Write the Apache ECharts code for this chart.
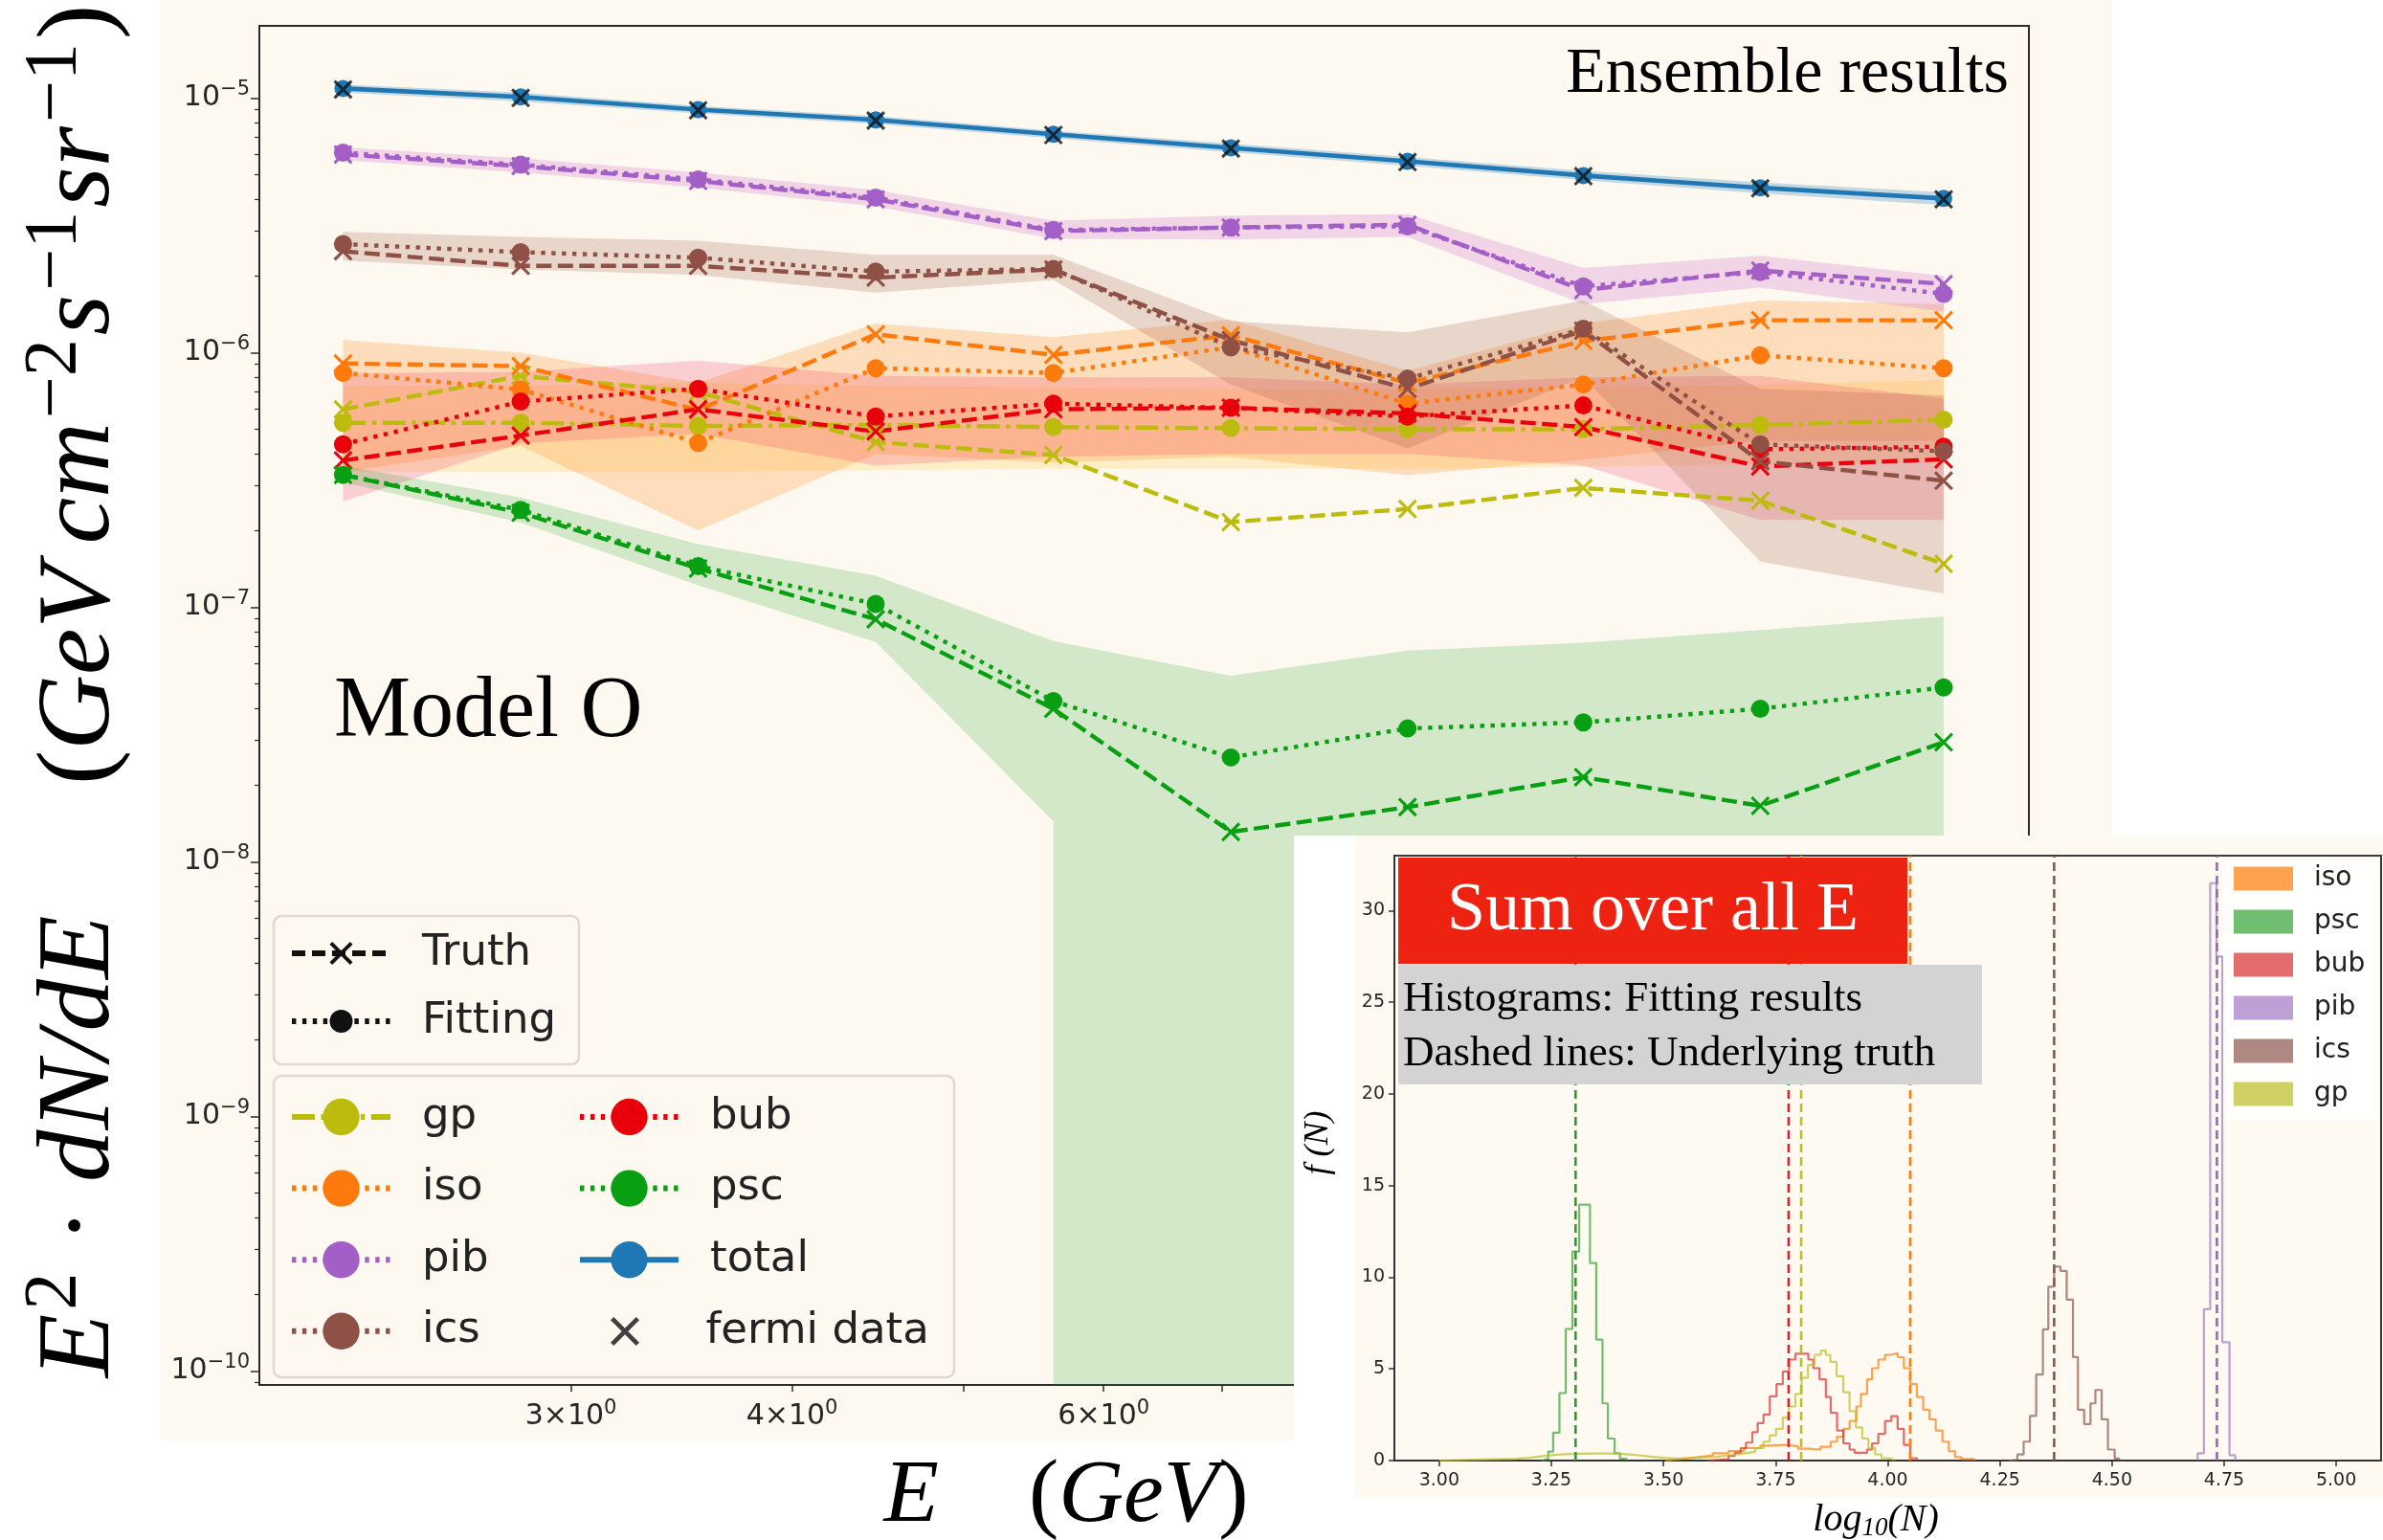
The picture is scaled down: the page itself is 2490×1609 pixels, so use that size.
<!DOCTYPE html>
<html>
<head>
<meta charset="utf-8">
<script src="https://cdn.jsdelivr.net/npm/echarts@6/dist/echarts.min.js"></script>
<style>
html,body{margin:0;padding:0;background:#ffffff;}
#chart{width:2490px;height:1609px;}
</style>
</head>
<body>
<div id="chart"></div>
<script>
// ---------- spectrum panel: energy bin centres (GeV) ----------
const energies = [2.23, 2.81, 3.54, 4.46, 5.62, 7.08, 8.91, 11.2, 14.1, 17.9];

// E^2 dN/dE  (GeV cm^-2 s^-1 sr^-1)
const totalFit  = [1.09e-5, 1.01e-5, 9.0e-6, 8.2e-6, 7.2e-6, 6.37e-6, 5.64e-6, 4.96e-6, 4.44e-6, 4.03e-6];
const totalLo   = [1.05e-5, 0.97e-5, 8.7e-6, 7.9e-6, 6.95e-6, 6.12e-6, 5.42e-6, 4.75e-6, 4.22e-6, 3.80e-6];
const totalHi   = [1.13e-5, 1.05e-5, 9.3e-6, 8.5e-6, 7.45e-6, 6.62e-6, 5.86e-6, 5.17e-6, 4.66e-6, 4.26e-6];
const fermiData = [1.08e-5, 1.0e-5, 8.95e-6, 8.15e-6, 7.15e-6, 6.33e-6, 5.6e-6, 4.93e-6, 4.42e-6, 4.0e-6];

const pibFit   = [6.1e-6, 5.47e-6, 4.79e-6, 4.06e-6, 3.03e-6, 3.10e-6, 3.13e-6, 1.82e-6, 2.07e-6, 1.70e-6];
const pibTruth = [6.0e-6, 5.4e-6, 4.72e-6, 4.0e-6, 3.0e-6, 3.1e-6, 3.18e-6, 1.76e-6, 2.1e-6, 1.86e-6];
const pibLo    = [5.7e-6, 5.1e-6, 4.45e-6, 3.75e-6, 2.8e-6, 2.78e-6, 2.85e-6, 1.55e-6, 1.8e-6, 1.45e-6];
const pibHi    = [6.4e-6, 5.8e-6, 5.1e-6, 4.35e-6, 3.3e-6, 3.45e-6, 3.5e-6, 2.15e-6, 2.4e-6, 2.0e-6];

const icsFit   = [2.67e-6, 2.48e-6, 2.36e-6, 2.08e-6, 2.13e-6, 1.05e-6, 7.9e-7, 1.24e-6, 4.36e-7, 4.1e-7];
const icsTruth = [2.50e-6, 2.19e-6, 2.19e-6, 1.97e-6, 2.12e-6, 1.12e-6, 7.2e-7, 1.22e-6, 3.74e-7, 3.14e-7];
const icsLo    = [2.3e-6, 2.12e-6, 2.02e-6, 1.72e-6, 1.93e-6, 7.5e-7, 4.2e-7, 8.0e-7, 1.51e-7, 1.13e-7];
const icsHi    = [2.98e-6, 2.85e-6, 2.75e-6, 2.42e-6, 2.42e-6, 1.33e-6, 1.2e-6, 1.6e-6, 7.2e-7, 6.8e-7];

const isoFit   = [8.32e-7, 7.16e-7, 4.42e-7, 8.68e-7, 8.32e-7, 1.05e-6, 6.3e-7, 7.5e-7, 9.75e-7, 8.68e-7];
const isoTruth = [9.06e-7, 8.85e-7, 5.95e-7, 1.18e-6, 9.8e-7, 1.17e-6, 7.6e-7, 1.11e-6, 1.34e-6, 1.34e-6];
const isoLo    = [3.4e-7, 4.3e-7, 2.0e-7, 4.0e-7, 3.7e-7, 3.9e-7, 3.3e-7, 3.8e-7, 4.5e-7, 4.5e-7];
const isoHi    = [1.12e-6, 1.0e-6, 7.6e-7, 1.3e-6, 1.15e-6, 1.35e-6, 8.5e-7, 1.3e-6, 1.6e-6, 1.55e-6];

const gpFit    = [5.3e-7, 5.3e-7, 5.15e-7, 5.2e-7, 5.1e-7, 5.05e-7, 5.0e-7, 5.0e-7, 5.2e-7, 5.45e-7];
const gpTruth  = [5.98e-7, 8.1e-7, 7.0e-7, 4.45e-7, 3.96e-7, 2.16e-7, 2.43e-7, 2.94e-7, 2.62e-7, 1.48e-7];
const gpLo     = [3.4e-7, 3.4e-7, 3.4e-7, 3.45e-7, 3.5e-7, 3.5e-7, 3.5e-7, 3.55e-7, 3.65e-7, 3.7e-7];
const gpHi     = [7.4e-7, 7.4e-7, 7.6e-7, 7.4e-7, 7.3e-7, 7.2e-7, 7.2e-7, 7.3e-7, 7.5e-7, 7.8e-7];

const bubFit   = [4.36e-7, 6.42e-7, 7.21e-7, 5.61e-7, 6.3e-7, 6.07e-7, 5.61e-7, 6.2e-7, 4.17e-7, 4.27e-7];
const bubTruth = [3.77e-7, 4.72e-7, 5.99e-7, 4.9e-7, 5.99e-7, 6.07e-7, 5.77e-7, 5.1e-7, 3.57e-7, 3.81e-7];
const bubLo    = [2.6e-7, 4.4e-7, 4.8e-7, 3.6e-7, 3.9e-7, 4.0e-7, 4.0e-7, 3.6e-7, 2.2e-7, 2.2e-7];
const bubHi    = [8.3e-7, 8.4e-7, 9.3e-7, 8.1e-7, 8.0e-7, 8.0e-7, 7.5e-7, 8.0e-7, 8.1e-7, 6.6e-7];

const pscFit   = [3.31e-7, 2.41e-7, 1.45e-7, 1.03e-7, 4.28e-8, 2.57e-8, 3.34e-8, 3.53e-8, 3.99e-8, 4.84e-8];
const pscTruth = [3.31e-7, 2.35e-7, 1.42e-7, 8.97e-8, 3.99e-8, 1.31e-8, 1.64e-8, 2.15e-8, 1.66e-8, 2.95e-8];
const pscLo    = [3.1e-7, 2.15e-7, 1.22e-7, 7.3e-8, 1.44e-8, 0, 0, 0, 0, 0];   // 0 = band reaches zero
const pscHi    = [3.6e-7, 2.7e-7, 1.77e-7, 1.33e-7, 7.36e-8, 5.38e-8, 6.75e-8, 7.26e-8, 8.13e-8, 9.2e-8];

// axis ranges of the spectrum panel
const E_MIN = 2, E_MAX = 20;
const FLUX_MIN = 8.82e-11, FLUX_MAX = 1.92e-5;
const yMajorExp = [-10, -9, -8, -7, -6, -5];
const xLabelE = [3, 4, 6, 10];
const xTickE = [3, 4, 5, 6, 7, 8, 9, 10, 20];

// ---------- histogram inset: log10(N) summed over all energies ----------
const pscEdges  = [3.229, 3.243, 3.254, 3.268, 3.282, 3.297, 3.312, 3.336, 3.350, 3.364, 3.376, 3.391, 3.403, 3.418];
const pscCounts = [0.1, 0.49, 1.52, 3.68, 7.18, 11.4, 13.96, 10.78, 6.6, 3.12, 1.2, 0.4, 0.1];

const bubEdges  = [3.600, 3.645, 3.659, 3.672, 3.684, 3.698, 3.710, 3.723, 3.737, 3.752, 3.766, 3.780, 3.794, 3.823, 3.834, 3.848, 3.862, 3.873, 3.887, 3.901, 3.915, 3.926, 3.954, 3.965, 3.979, 3.994, 4.008, 4.022, 4.036, 4.050, 4.065];
const bubCounts = [0.076, 0.25, 0.42, 0.68, 0.98, 1.55, 2.04, 2.51, 3.50, 4.17, 4.86, 5.51, 5.83, 5.51, 5.04, 4.43, 3.47, 2.6, 1.64, 0.94, 0.6, 0.42, 0.6, 0.94, 1.46, 2.16, 2.42, 1.73, 0.86, 0.13];

const gpEdges  = [3.00, 3.10, 3.17, 3.20, 3.235, 3.27, 3.31, 3.35, 3.38, 3.41, 3.44, 3.47, 3.50, 3.53, 3.56, 3.588, 3.617, 3.652, 3.684, 3.705, 3.723, 3.737, 3.751, 3.766, 3.780, 3.794, 3.808, 3.822, 3.837, 3.851, 3.862, 3.872, 3.886, 3.901, 3.915, 3.929, 3.943, 3.957, 3.972, 3.986, 4.000, 4.014];
const gpCounts = [0.06, 0.1, 0.15, 0.25, 0.33, 0.37, 0.39, 0.38, 0.36, 0.3, 0.22, 0.15, 0.1, 0.13, 0.18, 0.2, 0.3, 0.4, 0.49, 0.68, 1.03, 1.38, 1.73, 2.34, 2.95, 3.64, 4.51, 5.21, 5.77, 6.0, 5.77, 5.38, 4.60, 3.73, 2.69, 1.81, 1.20, 0.68, 0.34, 0.13, 0.06];

const isoEdges  = [3.505, 3.54, 3.574, 3.61, 3.645, 3.68, 3.716, 3.737, 3.773, 3.80, 3.823, 3.85, 3.873, 3.887, 3.901, 3.915, 3.930, 3.940, 3.954, 3.965, 3.979, 3.994, 4.008, 4.022, 4.036, 4.050, 4.065, 4.079, 4.093, 4.107, 4.122, 4.136, 4.150, 4.164, 4.193];
const isoCounts = [0.1, 0.18, 0.28, 0.4, 0.52, 0.68, 0.82, 0.86, 0.78, 0.65, 0.6, 0.75, 1.03, 1.3, 1.73, 2.16, 2.95, 3.64, 4.43, 5.04, 5.51, 5.77, 5.86, 5.64, 5.04, 4.17, 3.47, 2.77, 2.25, 1.64, 1.03, 0.51, 0.19, 0.08];

const icsEdges  = [4.271, 4.289, 4.303, 4.317, 4.331, 4.346, 4.358, 4.371, 4.385, 4.399, 4.413, 4.424, 4.438, 4.452, 4.463, 4.477, 4.491, 4.506, 4.516];
const icsCounts = [0.05, 0.33, 1.03, 2.43, 4.69, 7.16, 9.48, 10.58, 10.35, 8.78, 5.65, 2.77, 1.99, 3.12, 3.85, 2.25, 0.6, 0.11];

const pibEdges  = [4.691, 4.705, 4.719, 4.733, 4.746, 4.762, 4.775];
const pibCounts = [0.4, 8.26, 31.5, 27.5, 6.46, 0.29];

// underlying truth, log10(N)
const truthLogN = { iso: 4.050, psc: 3.304, bub: 3.779, pib: 4.734, ics: 4.371, gp: 3.807 };

const HIST_X_MIN = 2.9, HIST_X_MAX = 5.1, HIST_Y_MAX = 33;
const histXTicks = [3.0, 3.25, 3.5, 3.75, 4.0, 4.25, 4.5, 4.75, 5.0];
const histYTicks = [0, 5, 10, 15, 20, 25, 30];

// ---------- styling ----------
const COLORS = {
  gp: '#bdbb0e', iso: '#ff7a0c', pib: '#a35fc6', ics: '#8f5046',
  bub: '#e8000b', psc: '#08a012', total: '#1f77b4'
};
const BAND = {
  gp: 'rgba(255,205,70,0.24)', iso: 'rgba(255,150,50,0.28)', pib: 'rgba(215,120,210,0.28)',
  ics: 'rgba(160,90,70,0.22)', bub: 'rgba(245,60,100,0.22)', psc: 'rgba(44,160,44,0.2)',
  total: 'rgba(31,119,180,0.25)'
};
const HIST = {
  iso: 'rgba(255,127,14,0.72)', psc: 'rgba(44,160,44,0.68)', bub: 'rgba(214,39,40,0.68)',
  pib: 'rgba(148,103,189,0.62)', ics: 'rgba(140,86,75,0.7)', gp: 'rgba(188,189,34,0.7)'
};
const TRUTH_LINE = {
  iso: '#ff7f0e', psc: '#2ca02c', bub: '#e0202a', pib: '#9467bd', ics: '#8c564b', gp: '#bcbd22'
};

const LW = 4.4;
const DASH = [16, 6.5], DOT = [4.4, 6.5], DASHDOT = [24, 6.5, 4.4, 6.5];
const X_MARK = 'path://M0,1.1 L1.1,0 L5,3.9 L8.9,0 L10,1.1 L6.1,5 L10,8.9 L8.9,10 L5,6.1 L1.1,10 L0,8.9 L3.9,5 Z';
const SANS = 'DejaVu Sans', SERIF = 'Liberation Serif';
const L = Math.log10;

function pts(vals) { return energies.map((e, i) => [L(e), L(vals[i])]); }

function band(name, lo, hi, color) {
  return {
    type: 'custom', name: name + ' band', xAxisIndex: 0, yAxisIndex: 0, z: 1, silent: true, clip: true,
    data: [0],
    renderItem(params, api) {
      const top = energies.map((e, i) => api.coord([L(e), L(hi[i])]));
      const bottom = [];
      for (let i = energies.length - 1; i >= 0; i--) {
        if (lo[i] > 0) {
          bottom.push(api.coord([L(energies[i]), L(lo[i])]));
        } else {
          bottom.push(api.coord([L(energies[i]), L(FLUX_MIN)]));
          if (i > 0 && lo[i - 1] > 0) bottom.push(api.coord([L(energies[i - 1]), L(FLUX_MIN)]));
        }
      }
      return { type: 'polygon', shape: { points: top.concat(bottom) }, style: { fill: color } };
    }
  };
}

function lineSeries(name, vals, color, dash, symbol, size, z, width) {
  return {
    type: 'line', name, xAxisIndex: 0, yAxisIndex: 0, z: z || 2,
    data: pts(vals), symbol, symbolSize: size, showSymbol: true,
    lineStyle: { color, width: width || LW, type: dash },
    itemStyle: { color },
    emphasis: { disabled: true }
  };
}

function histSeries(key, edges, counts) {
  const data = [[edges[0], 0]];
  counts.forEach((c, i) => data.push([edges[i], c]));
  data.push([edges[edges.length - 1], 0]);
  return {
    type: 'line', name: key + ' hist', xAxisIndex: 1, yAxisIndex: 2, z: 12,
    step: 'end', data, symbol: 'none',
    lineStyle: { color: HIST[key], width: 2.2 }, itemStyle: { color: HIST[key] },
    emphasis: { disabled: true }
  };
}

function truthLine(key) {
  const x = truthLogN[key];
  return {
    type: 'line', name: key + ' truth line', xAxisIndex: 1, yAxisIndex: 2, z: 12,
    data: [[x, 0], [x, HIST_Y_MAX]], symbol: 'none',
    lineStyle: { color: TRUTH_LINE[key], width: 2.6, type: [9, 5] },
    emphasis: { disabled: true }
  };
}

const comps = [
  ['gp', gpFit, gpTruth, gpLo, gpHi, DASHDOT],
  ['iso', isoFit, isoTruth, isoLo, isoHi, DOT],
  ['bub', bubFit, bubTruth, bubLo, bubHi, DOT],
  ['ics', icsFit, icsTruth, icsLo, icsHi, DOT],
  ['pib', pibFit, pibTruth, pibLo, pibHi, DOT],
  ['psc', pscFit, pscTruth, pscLo, pscHi, DOT]
];

const series = [];
series.push(band('total', totalLo, totalHi, BAND.total));
comps.forEach(c => series.push(band(c[0], c[3], c[4], BAND[c[0]])));
comps.forEach(c => {
  series.push(lineSeries(c[0] + ' truth', c[2], COLORS[c[0]], DASH, X_MARK, 20, 2));
  series.push(lineSeries(c[0], c[1], COLORS[c[0]], c[5], 'circle', 19, 2));
});
series.push(lineSeries('total', totalFit, COLORS.total, 'solid', 'circle', 18, 3, 4.6));
series.push({
  type: 'scatter', name: 'fermi data', xAxisIndex: 0, yAxisIndex: 0, z: 4,
  data: pts(fermiData), symbol: X_MARK, symbolSize: 20,
  itemStyle: { color: '#111111' }, emphasis: { disabled: true }
});
// legend-only entries for the line-style key
series.push({ type: 'line', name: 'Truth', xAxisIndex: 0, yAxisIndex: 0, data: [], symbol: X_MARK,
  lineStyle: { color: '#111', width: LW, type: [14, 7] }, itemStyle: { color: '#111' } });
series.push({ type: 'line', name: 'Fitting', xAxisIndex: 0, yAxisIndex: 0, data: [], symbol: 'circle',
  lineStyle: { color: '#111', width: LW, type: DOT }, itemStyle: { color: '#111' } });

// histogram inset
const histOrder = ['iso', 'psc', 'bub', 'pib', 'ics', 'gp'];
const histData = { iso: [isoEdges, isoCounts], psc: [pscEdges, pscCounts], bub: [bubEdges, bubCounts],
  pib: [pibEdges, pibCounts], ics: [icsEdges, icsCounts], gp: [gpEdges, gpCounts] };
histOrder.forEach(k => series.push(histSeries(k, histData[k][0], histData[k][1])));
histOrder.forEach(k => series.push(truthLine(k)));

// minor tick positions of the log flux axis
const yMinor = [];
for (let n = -11; n <= -5; n++) for (let k = 2; k <= 9; k++) {
  const v = n + L(k);
  if (v > L(FLUX_MIN) && v < L(FLUX_MAX)) yMinor.push(v);
}

const tickFont = { fontFamily: SANS, color: '#262626' };
const supRich = {
  b: { fontSize: 30, fontFamily: SANS, color: '#262626', lineHeight: 38 },
  s: { fontSize: 21, fontFamily: SANS, color: '#262626', verticalAlign: 'top', lineHeight: 22 }
};

const legendText = { fontSize: 45, fontFamily: SANS, color: '#222', lineHeight: 50, padding: [0, 0, 0, 28] };
const mainLegendBase = {
  orient: 'vertical', padding: 0, itemWidth: 103, selectedMode: false, z: 6,
  textStyle: legendText, lineStyle: { width: 6 }, symbolKeepAspect: true
};

const option = {
  animation: false,
  backgroundColor: '#ffffff',
  grid: [
    { left: 271, top: 27, width: 1849, height: 1420, show: true, borderColor: '#2b2b2b', borderWidth: 2, backgroundColor: 'transparent' },
    { left: 1457, top: 894, width: 1031, height: 632, show: true, borderColor: '#3a3a3a', borderWidth: 2, backgroundColor: 'transparent', z: 11 }
  ],
  xAxis: [
    {
      type: 'value', gridIndex: 0, min: L(E_MIN), max: L(E_MAX),
      axisLine: { lineStyle: { color: '#2b2b2b', width: 2 } },
      axisTick: { length: 7, lineStyle: { color: '#2b2b2b', width: 1.5 }, customValues: xTickE.map(L) },
      axisLabel: {
        customValues: xLabelE.map(L), margin: 14,
        formatter: v => { const e = Math.pow(10, v); const exp = Math.floor(v + 1e-9); const m = Math.round(e / Math.pow(10, exp)); return m === 1 ? '{b|10}{s|' + exp + '}' : '{b|' + m + '×10}{s|' + exp + '}'; },
        rich: supRich
      },
      splitLine: { show: false }
    },
    {
      type: 'value', gridIndex: 1, min: HIST_X_MIN, max: HIST_X_MAX, z: 11,
      axisLine: { lineStyle: { color: '#333', width: 2 } },
      axisTick: { length: 6, customValues: histXTicks, lineStyle: { color: '#333', width: 1.5 } },
      axisLabel: { customValues: histXTicks, formatter: v => v.toFixed(2), fontSize: 19, margin: 12, ...tickFont },
      splitLine: { show: false }
    }
  ],
  yAxis: [
    {
      type: 'value', gridIndex: 0, min: L(FLUX_MIN), max: L(FLUX_MAX),
      axisLine: { show: true, lineStyle: { color: '#2b2b2b', width: 2 } },
      axisTick: { show: true, length: 9, customValues: yMajorExp, lineStyle: { color: '#2b2b2b', width: 1.5 } },
      axisLabel: {
        customValues: yMajorExp, margin: 10,
        formatter: v => '{b|10}{s|' + String(Math.round(v)).replace('-', '\u2212') + '}',
        rich: supRich
      },
      splitLine: { show: false }
    },
    {
      type: 'value', gridIndex: 0, position: 'left', min: L(FLUX_MIN), max: L(FLUX_MAX),
      axisLine: { show: false },
      axisTick: { show: true, length: 5, customValues: yMinor, lineStyle: { color: '#2b2b2b', width: 1.2 } },
      axisLabel: { show: false }, splitLine: { show: false }
    },
    {
      type: 'value', gridIndex: 1, min: 0, max: HIST_Y_MAX, z: 11,
      axisLine: { show: true, lineStyle: { color: '#333', width: 2 } },
      axisTick: { show: true, length: 6, customValues: histYTicks, lineStyle: { color: '#333', width: 1.5 } },
      axisLabel: { customValues: histYTicks, fontSize: 19, margin: 10, ...tickFont },
      splitLine: { show: false }
    }
  ],
  legend: [
    Object.assign({}, mainLegendBase, { data: ['Truth', 'Fitting'], left: 302, top: 971, itemHeight: 30, itemGap: 21 }),
    Object.assign({}, mainLegendBase, { data: ['gp', 'iso', 'pib', 'ics'], left: 302, top: 1142, itemHeight: 48, itemGap: 24.6 }),
    Object.assign({}, mainLegendBase, { data: ['bub', 'psc', 'total'], left: 603, top: 1142, itemHeight: 48, itemGap: 24.6 }),
    Object.assign({}, mainLegendBase, { data: ['fermi data'], left: 638, top: 1366, itemHeight: 30 }),
    {
      data: histOrder.map(k => ({ name: k + ' hist', itemStyle: { color: HIST[k], borderWidth: 0 } })),
      formatter: n => n.split(' ')[0],
      orient: 'vertical', left: 2323, top: 898, icon: 'rect', itemWidth: 62, itemHeight: 25, itemGap: 11,
      padding: [3, 14, 10, 11], backgroundColor: 'rgba(255,255,255,0.9)', selectedMode: false, z: 14,
      textStyle: { fontSize: 28, fontFamily: SANS, color: '#222', lineHeight: 34, padding: [0, 0, 0, 17] }
    }
  ],
  graphic: { elements: [
    // panel backgrounds
    { type: 'rect', z: -5, silent: true, shape: { x: 167, y: 0, width: 2040, height: 1505 }, style: { fill: '#fdf9f0' } },
    // legend frames
    { type: 'rect', z: 3, silent: true, shape: { x: 286, y: 957, width: 319, height: 155, r: 8 }, style: { fill: 'rgba(253,249,240,0.82)', stroke: '#e2d6d0', lineWidth: 2.5 } },
    { type: 'rect', z: 3, silent: true, shape: { x: 286, y: 1124, width: 711, height: 315, r: 8 }, style: { fill: 'rgba(253,249,240,0.82)', stroke: '#e2d6d0', lineWidth: 2.5 } },
    // panel annotations
    { type: 'text', z: 5, silent: true, x: 2099, y: 78, style: { text: 'Ensemble results', fontFamily: SERIF, fontSize: 68, fill: '#000', align: 'right', verticalAlign: 'middle' } },
    { type: 'text', z: 5, silent: true, x: 349, y: 745, style: { text: 'Model O', fontFamily: SERIF, fontSize: 90, fill: '#000', align: 'left', verticalAlign: 'middle' } },
    // y axis title
    { type: 'text', z: 5, silent: true, x: 84, y: 722, rotation: Math.PI / 2,
      style: {
        text: '{i|E}{u|2}{n| · }{i|dN/dE}{n|     (}{i|GeV\u2009cm}{u|\u22122}{i|s}{u|\u22121}{i|sr}{u|\u22121}{n|)}',
        align: 'center', verticalAlign: 'middle',
        rich: {
          i: { fontFamily: SERIF, fontStyle: 'italic', fontSize: 109, lineHeight: 130, fill: '#000' },
          n: { fontFamily: SERIF, fontSize: 109, lineHeight: 130, fill: '#000' },
          u: { fontFamily: SERIF, fontSize: 78, lineHeight: 72, verticalAlign: 'top', fill: '#000', padding: [0, 4, 0, 4] }
        }
      } },
    // x axis title
    { type: 'text', z: 5, silent: true, x: 1114, y: 1564,
      style: {
        text: '{i|E}{n|    (}{i|GeV}{n|)}', align: 'center', verticalAlign: 'middle',
        rich: {
          i: { fontFamily: SERIF, fontStyle: 'italic', fontSize: 94, fill: '#000' },
          n: { fontFamily: SERIF, fontSize: 94, fill: '#000' }
        }
      } },
    // inset cover
    { type: 'rect', z: 10, silent: true, shape: { x: 1352, y: 873, width: 1138, height: 736 }, style: { fill: '#ffffff' } },
    { type: 'rect', z: 10, silent: true, shape: { x: 1416, y: 873, width: 1074, height: 692 }, style: { fill: '#fefaf2' } },
    // inset annotations
    { type: 'rect', z: 13, silent: true, shape: { x: 1461, y: 896, width: 532, height: 111 }, style: { fill: '#ee2211' } },
    { type: 'text', z: 14, silent: true, x: 1727, y: 952, style: { text: 'Sum over all E', fontFamily: SERIF, fontSize: 72, fill: '#ffffff', align: 'center', verticalAlign: 'middle' } },
    { type: 'rect', z: 13, silent: true, shape: { x: 1461, y: 1008, width: 610, height: 125 }, style: { fill: '#d3d3d3' } },
    { type: 'text', z: 14, silent: true, x: 1466, y: 1044, style: { text: 'Histograms: Fitting results', fontFamily: SERIF, fontSize: 45, fill: '#000', align: 'left', verticalAlign: 'middle' } },
    { type: 'text', z: 14, silent: true, x: 1466, y: 1101, style: { text: 'Dashed lines: Underlying truth', fontFamily: SERIF, fontSize: 45, fill: '#000', align: 'left', verticalAlign: 'middle' } },
    { type: 'text', z: 14, silent: true, x: 1378, y: 1194, rotation: Math.PI / 2,
      style: { text: 'f (N)', fontFamily: SERIF, fontStyle: 'italic', fontSize: 36, fill: '#000', align: 'center', verticalAlign: 'middle' } },
    { type: 'text', z: 14, silent: true, x: 1960, y: 1588,
      style: {
        text: '{i|log}{d|10}{i|(N)}', align: 'center', verticalAlign: 'middle',
        rich: {
          i: { fontFamily: SERIF, fontStyle: 'italic', fontSize: 40, lineHeight: 44, fill: '#000' },
          d: { fontFamily: SERIF, fontStyle: 'italic', fontSize: 27, lineHeight: 26, verticalAlign: 'bottom', fill: '#000' }
        }
      } }
  ] },
  series
};

const chart = echarts.init(document.getElementById('chart'), null, { renderer: 'canvas', width: 2490, height: 1609 });
chart.setOption(option);
</script>
</body>
</html>
